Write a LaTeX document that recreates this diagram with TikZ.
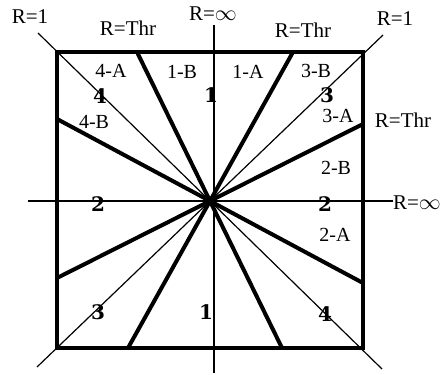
\documentclass[tikz,border=0pt]{standalone}
\usepackage{fontspec}
\setmainfont{Liberation Serif}
\newfontfamily\numfont{DejaVu Serif}
\tikzset{
  frameline/.style={line width=2pt},
  thrline/.style={line width=2pt},
  thinline/.style={line width=0.6pt},
  rlabel/.style={font=\fontsize{10.5}{12}\selectfont, inner sep=0pt},
  zone/.style={font=\fontsize{10}{12}\selectfont, inner sep=0pt},
  sector/.style={font=\fontsize{10}{12}\selectfont\numfont\bfseries, inner sep=0pt}
}
\begin{document}
\begin{tikzpicture}[x=0.5pt,y=-0.5pt]
\useasboundingbox (0,0) rectangle (443,374);
\coordinate (O) at (210,201);
\coordinate (tl) at (57,52);
\coordinate (tr) at (363,52);
\coordinate (br) at (363,348);
\coordinate (bl) at (57,348);
\draw[thinline] (38,33) -- (O) -- (382,369);
\draw[thinline] (383,35) -- (O) -- (37,367);
\draw[thinline] (28,201) -- (393,201);
\draw[thinline] (214,25) -- (214,373);
\draw[thrline] (137,52) -- (O) -- (282,348);
\draw[thrline] (293,52) -- (O) -- (128,348);
\draw[thrline] (57,119) -- (O) -- (363,283);
\draw[thrline] (363,124) -- (O) -- (57,278);
\draw[frameline] (tl) rectangle (br);
\fill (O) circle (2.2pt);
\node[rlabel] (r1a) at (30,17) {R=1};
\node[rlabel] (thra) at (128,28) {R=Thr};
\node[rlabel] (infa) at (213,14) {R=$\infty$};
\node[rlabel] (thrb) at (303,30) {R=Thr};
\node[rlabel] (r1b) at (395,19) {R=1};
\node[rlabel] (thrc) at (403,120) {R=Thr};
\node[rlabel] (infb) at (417,203) {R=$\infty$};
\node[zone] (z4a) at (111,71) {4-A};
\node[zone] (z4b) at (94,122) {4-B};
\node[zone] (z1b) at (182,72) {1-B};
\node[zone] (z1a) at (248,72) {1-A};
\node[zone] (z3b) at (316,71) {3-B};
\node[zone] (z3a) at (338,116) {3-A};
\node[zone] (z2b) at (336,168) {2-B};
\node[zone] (z2a) at (335,235) {2-A};
\node[sector] (s4a) at (100,96) {4};
\node[sector] (s1a) at (211,95) {1};
\node[sector] (s3a) at (327,95) {3};
\node[sector] (s2a) at (98,204) {2};
\node[sector] (s2b) at (325,204) {2};
\node[sector] (s3b) at (98,312) {3};
\node[sector] (s1b) at (206,312) {1};
\node[sector] (s4b) at (325,314) {4};
\end{tikzpicture}
\end{document}
